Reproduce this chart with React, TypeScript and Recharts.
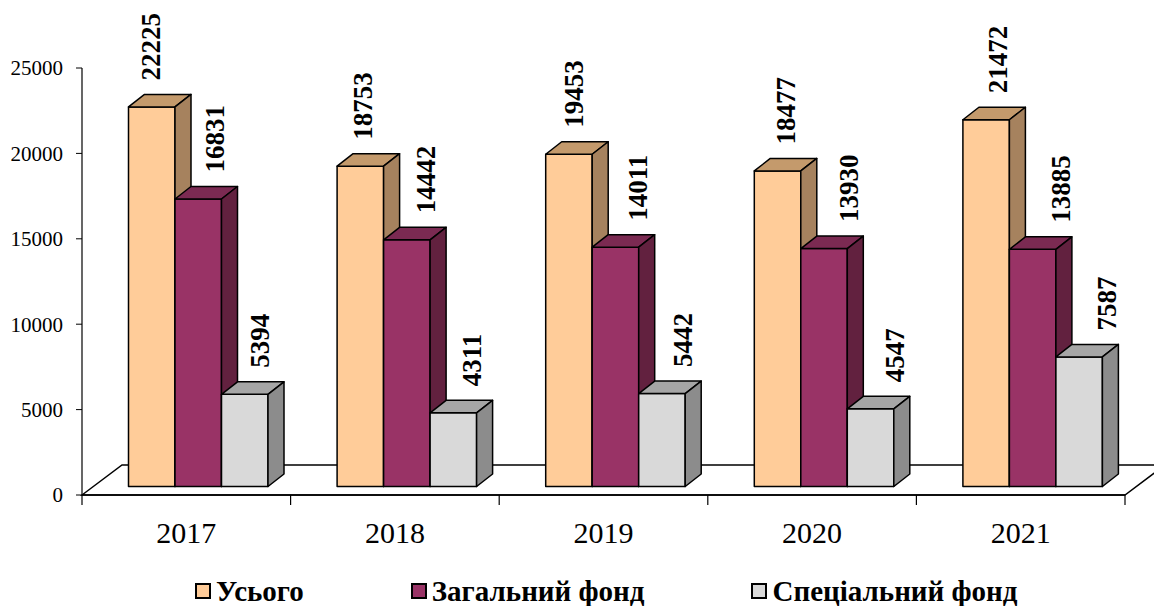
import { Bar, BarChart, CartesianGrid, LabelList, Legend, XAxis, YAxis } from "recharts";

const years = ["2017", "2018", "2019", "2020", "2021"];
const totalValues = [22225, 18753, 19453, 18477, 21472];
const generalValues = [16831, 14442, 14011, 13930, 13885];
const specialValues = [5394, 4311, 5442, 4547, 7587];
const yTicks = [0, 5000, 10000, 15000, 20000, 25000];

type SeriesSpec = {
  key: string;
  name: string;
  front: string;
  top: string;
  side: string;
  labelShift: number;
};

const series: SeriesSpec[] = [
  { key: "total", name: "Усього", front: "#FFCC99", top: "#C49A6C", side: "#A6825E", labelShift: -1 },
  { key: "general", name: "Загальний фонд", front: "#993366", top: "#7B2A52", side: "#62213F", labelShift: 16 },
  { key: "special", name: "Спеціальний фонд", front: "#D9D9D9", top: "#A6A6A6", side: "#8C8C8C", labelShift: 15 }
];

const data = years.map((year, i) => ({
  year,
  total: totalValues[i],
  general: generalValues[i],
  special: specialValues[i]
}));

const serif = '"Liberation Serif", "Times New Roman", serif';

// fake 3D: bars sit a bit back on the floor, with a top and a side face
const shiftX = 11.5;
const shiftY = 8.5;
const depthX = 16;
const depthY = 12.5;
const floorX = 40;
const floorY = 30;

function Bar3D(props: any) {
  const { x, y, width, height, spec } = props;
  const fx = x + shiftX;
  const fy = y - shiftY;
  const stroke = { stroke: "#000", strokeWidth: 1.5, strokeLinejoin: "round" as const };
  return (
    <g>
      <rect x={fx} y={fy} width={width} height={height} fill={spec.front} {...stroke} />
      <polygon
        points={`${fx},${fy} ${fx + depthX},${fy - depthY} ${fx + width + depthX},${fy - depthY} ${fx + width},${fy}`}
        fill={spec.top}
        {...stroke}
      />
      <polygon
        points={`${fx + width},${fy} ${fx + width + depthX},${fy - depthY} ${fx + width + depthX},${fy + height - depthY} ${fx + width},${fy + height}`}
        fill={spec.side}
        {...stroke}
      />
    </g>
  );
}

function ValueLabel(props: any) {
  const { x, y, width, value, index, spec } = props;
  const cx = x + shiftX + width / 2 + spec.labelShift + index * 3;
  const y0 = y - shiftY - depthY - 14;
  return (
    <text
      x={cx}
      y={y0}
      dy="0.35em"
      transform={`rotate(-90, ${cx}, ${y0})`}
      textAnchor="start"
      fontFamily={serif}
      fontWeight={700}
      fontSize={27}
      fill="#000"
    >
      {value}
    </text>
  );
}

function Floor(props: any) {
  const { x1, y1, x2, y, height } = props;
  if (Math.abs(y1 - (y + height)) > 1) return <g />;
  const step = (x2 - x1) / years.length;
  return (
    <g>
      <polygon
        points={`${x1},${y1} ${x1 + floorX},${y1 - floorY} ${x2 + floorX},${y1 - floorY} ${x2},${y1}`}
        fill="#fff"
        stroke="#000"
        strokeWidth={1.5}
      />
      {years.concat("").map((_, i) => (
        <line key={i} x1={x1 + i * step} y1={y1} x2={x1 + i * step} y2={y1 + 10} stroke="#000" strokeWidth={1.2} />
      ))}
    </g>
  );
}

function YearTick(props: any) {
  const { x, y, payload } = props;
  return (
    <text x={x} y={y} dy={48} textAnchor="middle" fontFamily={serif} fontSize={30} fill="#000">
      {payload.value}
    </text>
  );
}

function LegendRow() {
  return (
    <div
      style={{
        display: "flex",
        height: 51,
        boxSizing: "border-box",
        paddingLeft: 195,
        paddingTop: 20,
        gap: 107,
        fontFamily: serif,
        fontWeight: 700,
        fontSize: 29,
        lineHeight: "30px",
        color: "#000"
      }}
    >
      {series.map((s) => (
        <div key={s.key} style={{ display: "flex", alignItems: "center", gap: 5 }}>
          <span style={{ width: 12, height: 12, background: s.front, border: "2px solid #000" }} />
          <span>{s.name}</span>
        </div>
      ))}
    </div>
  );
}

export default function App() {
  return (
    <div>
      <style>{"body{margin:0}"}</style>
      <BarChart
        width={1154}
        height={606}
        data={data}
        margin={{ top: 68, right: 29, bottom: 0, left: 0 }}
        barSize={46.5}
        barGap={0}
      >
        <CartesianGrid vertical={false} horizontal={(p: any) => <Floor key={p.key} {...p} />} />
        <XAxis
          dataKey="year"
          height={60}
          tickLine={false}
          tickSize={0}
          tickMargin={0}
          axisLine={{ stroke: "#000", strokeWidth: 1.5 }}
          tick={<YearTick />}
          interval={0}
        />
        <YAxis
          width={82}
          domain={[0, 25000]}
          ticks={yTicks}
          axisLine={{ stroke: "#000", strokeWidth: 1.2 }}
          tickLine={{ stroke: "#000" }}
          tickSize={6}
          tickMargin={13}
          tick={{ fontFamily: serif, fontSize: 21, fill: "#000" }}
        />
        <Legend verticalAlign="bottom" height={51} wrapperStyle={{ left: 0, width: 1154 }} content={<LegendRow />} />
        {series.map((s) => (
          <Bar
            key={s.key}
            dataKey={s.key}
            name={s.name}
            fill={s.front}
            isAnimationActive={false}
            shape={(p: any) => <Bar3D {...p} spec={s} />}
          >
            <LabelList dataKey={s.key} content={(p: any) => <ValueLabel {...p} spec={s} />} />
          </Bar>
        ))}
      </BarChart>
    </div>
  );
}
